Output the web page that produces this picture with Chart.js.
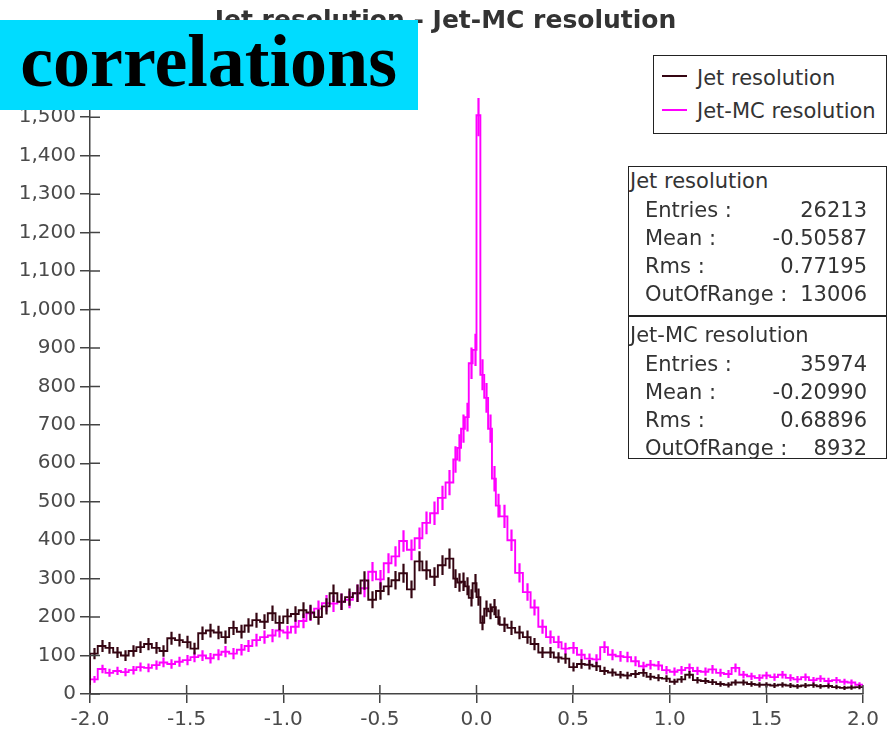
<!DOCTYPE html>
<html>
<head>
<meta charset="utf-8">
<script src="https://cdn.jsdelivr.net/npm/chart.js@4.4.1/dist/chart.umd.min.js"></script>
<style>
  html, body { margin: 0; padding: 0; background: #fff; }
  #wrap { position: relative; width: 891px; height: 740px; overflow: hidden; font-family: "DejaVu Sans", sans-serif; }
  #c { position: absolute; left: 0; top: 0; }
  .ov { position: absolute; white-space: nowrap; color: #333; font-size: 21px; line-height: 28px; }
  .box { position: absolute; border: 1.5px solid #222; box-sizing: border-box; background: #fff; }
  .r { text-align: right; }
</style>
</head>
<body>
<div id="wrap">
  <canvas id="c" width="891" height="740"></canvas>
</div>
<script>
// ---- data ----
const title = "Jet resolution - Jet-MC resolution";
const seriesNames = ["Jet resolution", "Jet-MC resolution"];
const xMin = -2.0, xMax = 2.0;
const yMax = 1550;
const yTickValues = [0,100,200,300,400,500,600,700,800,900,1000,1100,1200,1300,1400,1500];
// lower bin edges
const binLow = [
  -2.00,-1.96,-1.92,-1.88,-1.84,-1.80,-1.76,-1.72,-1.68,-1.64,
  -1.60,-1.56,-1.52,-1.48,-1.44,-1.40,-1.36,-1.32,-1.28,-1.24,
  -1.20,-1.16,-1.12,-1.08,-1.04,-1.00,-0.96,-0.92,-0.88,-0.84,
  -0.80,-0.76,-0.72,-0.68,-0.64,-0.60,-0.56,-0.52,-0.48,-0.44,
  -0.40,-0.36,-0.32,-0.28,-0.24,-0.20,-0.16,
  -0.12,-0.10,-0.08,-0.06,-0.04,-0.02,0.00,0.02,0.04,0.06,0.08,0.10,
  0.12,0.16,0.20,0.24,0.28,0.32,0.36,0.40,0.44,0.48,
  0.52,0.56,0.60,0.64,0.68,0.72,0.76,0.80,0.84,0.88,
  0.92,0.96,1.00,1.04,1.08,1.12,1.16,1.20,1.24,1.28,
  1.32,1.36,1.40,1.44,1.48,1.52,1.56,1.60,1.64,1.68,
  1.72,1.76,1.80,1.84,1.88,1.92,1.96
];
const jetRes = [
  105,125,120,108,100,112,122,130,120,112,
  145,140,135,118,158,165,160,148,172,162,
  178,192,188,210,185,202,208,218,212,200,
  228,262,240,252,262,295,245,268,280,296,
  314,272,345,322,305,335,352,
  300,290,292,280,250,288,252,185,222,215,226,200,
  180,172,160,148,130,108,108,95,92,70,
  78,76,72,60,56,50,48,52,55,45,
  42,40,32,38,50,36,34,31,26,24,
  30,30,26,24,24,22,24,22,20,22,
  23,20,21,18,16,17,18
];
const jetMcRes = [
  38,65,55,60,57,62,70,68,75,82,
  78,84,88,96,100,93,102,110,105,115,
  125,140,148,152,165,160,175,190,210,222,
  236,235,240,245,262,275,318,298,340,358,
  398,375,405,445,470,510,550,
  610,640,690,720,860,895,1505,830,770,690,560,490,
  462,400,315,265,225,175,148,135,118,120,
  102,92,90,122,102,98,96,85,72,76,
  74,62,58,62,68,60,58,64,55,52,
  68,50,46,42,48,44,50,42,38,44,
  36,40,34,36,32,30,24
];
const colors = ["#350512", "#ff00ff"];

// ---- step histogram points built from the arrays ----
function stepPoints(vals) {
  const pts = [{x: binLow[0], y: 0}];
  vals.forEach((v, i) => pts.push({x: binLow[i], y: v}));
  pts.push({x: xMax, y: vals[vals.length - 1]});
  return pts;
}

const errBars = {
  id: 'errBars',
  afterDatasetsDraw(chart) {
    const {ctx, chartArea: a, scales: {x, y}} = chart;
    ctx.save();
    ctx.beginPath();
    ctx.rect(a.left, a.top, a.right - a.left, a.bottom - a.top);
    ctx.clip();
    const dss = chart.data.datasets.slice().reverse();
    dss.forEach(ds => {
      ctx.strokeStyle = ds.borderColor;
      ctx.lineWidth = 2.2;
      ctx.beginPath();
      ds.binVal.forEach((v, i) => {
        const lo = binLow[i], hi = i + 1 < binLow.length ? binLow[i + 1] : xMax;
        const cx = Math.round(x.getPixelForValue((lo + hi) / 2)) + 0.5;
        const e = 1.4 * Math.sqrt(v);
        ctx.moveTo(cx, y.getPixelForValue(Math.max(0, v - e)));
        ctx.lineTo(cx, y.getPixelForValue(v + e));
      });
      ctx.stroke();
    });
    ctx.restore();
  }
};

const innerTicks = {
  id: 'innerTicks',
  afterDraw(chart) {
    const {ctx, chartArea: a, scales: {x, y}} = chart;
    ctx.save();
    ctx.strokeStyle = '#444';
    ctx.lineWidth = 1.5;
    ctx.beginPath();
    x.ticks.forEach(t => {
      const px = x.getPixelForValue(t.value);
      ctx.moveTo(px, a.bottom); ctx.lineTo(px, a.bottom - 9);
    });
    y.ticks.forEach(t => {
      const py = y.getPixelForValue(t.value);
      ctx.moveTo(a.left, py); ctx.lineTo(a.left + 10, py);
    });
    ctx.stroke();
    ctx.restore();
  }
};

new Chart(document.getElementById('c'), {
  type: 'line',
  data: {
    datasets: [
      { label: seriesNames[0], data: stepPoints(jetRes), binVal: jetRes,
        borderColor: colors[0], backgroundColor: colors[0], borderWidth: 1.9,
        stepped: true, pointRadius: 0, fill: false },
      { label: seriesNames[1], data: stepPoints(jetMcRes), binVal: jetMcRes,
        borderColor: colors[1], backgroundColor: colors[1], borderWidth: 1.9,
        stepped: true, pointRadius: 0, fill: false }
    ]
  },
  options: {
    responsive: false,
    animation: false,
    locale: 'en-US',
    layout: { padding: { right: 0, left: 0, bottom: 0, top: 0 } },
    plugins: {
      legend: { display: false },
      tooltip: { enabled: false },
      title: {
        display: true, text: title, color: '#333',
        font: { family: 'DejaVu Sans', size: 25, weight: 'bold' },
        padding: { top: 6, bottom: 62 }
      }
    },
    scales: {
      x: {
        type: 'linear', min: xMin, max: xMax,
        afterFit(s) { s.height = 46; },
        ticks: { stepSize: 0.5, color: '#4a4a4a', padding: 5,
          font: { family: 'DejaVu Sans', size: 20 },
          callback: v => v.toFixed(1) },
        grid: { drawOnChartArea: false, drawTicks: true, tickLength: 9, color: '#444', lineWidth: 1.5 },
        border: { color: '#444', width: 1.5 }
      },
      y: {
        type: 'linear', min: 0, max: yMax,
        afterFit(s) { s.width = 90; },
        afterBuildTicks(s) { s.ticks = yTickValues.map(v => ({value: v})); },
        ticks: { stepSize: 100, color: '#4a4a4a', padding: 4,
          font: { family: 'DejaVu Sans', size: 20 } },
        grid: { drawOnChartArea: false, drawTicks: true, tickLength: 10, color: '#444', lineWidth: 1.5 },
        border: { color: '#444', width: 1.5 }
      },
      yRight: {
        type: 'linear', position: 'right', min: 0, max: yMax,
        afterFit(s) { s.width = 28; },
        ticks: { display: false },
        grid: { display: false, drawTicks: false },
        border: { display: false }
      }
    }
  },
  plugins: [errBars, innerTicks]
});

// ---- overlays: legend, statistics boxes, banner ----
const wrap = document.getElementById('wrap');
function el(cls, style, text) {
  const d = document.createElement('div');
  d.className = cls;
  Object.assign(d.style, style);
  if (text !== undefined) d.textContent = text;
  wrap.appendChild(d);
  return d;
}
// legend
el('box', {left: '653px', top: '55px', width: '234px', height: '79px'});
seriesNames.forEach((n, i) => {
  const yLine = [76, 110][i];
  el('', {position: 'absolute', left: '662px', top: (yLine - 1) + 'px', width: '25px', height: '2px', background: colors[i]});
  el('ov', {left: '697px', top: ([85, 118][i] - 21) + 'px'}, n);
});
// stats
const statLabels = ["Entries :", "Mean :", "Rms :", "OutOfRange :"];
const jetStats = ["26213", "-0.50587", "0.77195", "13006"];
const jetMcStats = ["35974", "-0.20990", "0.68896", "8932"];
el('box', {left: '628px', top: '166px', width: '259px', height: '293px'});
el('', {position: 'absolute', left: '628px', top: '315px', width: '259px', height: '1.5px', background: '#222'});
[[seriesNames[0], jetStats, 188], [seriesNames[1], jetMcStats, 342]].forEach(([name, vals, base]) => {
  el('ov', {left: '630px', top: (base - 21) + 'px'}, name);
  statLabels.forEach((lab, k) => {
    const b = base + 29 + k * 28;
    el('ov', {left: '645px', top: (b - 21) + 'px'}, lab);
    el('ov r', {left: '700px', width: '167px', top: (b - 21) + 'px'}, vals[k]);
  });
});
// banner
const ban = el('', {position: 'absolute', left: '0px', top: '20px', width: '418px', height: '90px',
  background: '#00dcff', overflow: 'hidden'});
const bt = document.createElement('div');
Object.assign(bt.style, {position: 'absolute', right: '21px', top: '0px', whiteSpace: 'nowrap',
  fontFamily: '"Liberation Serif", "Times New Roman", serif', fontWeight: 'bold', fontSize: '74px',
  lineHeight: '83px', color: '#000', wordSpacing: '9px'});
bt.textContent = "Jet correlations";
ban.appendChild(bt);
</script>
</body>
</html>
